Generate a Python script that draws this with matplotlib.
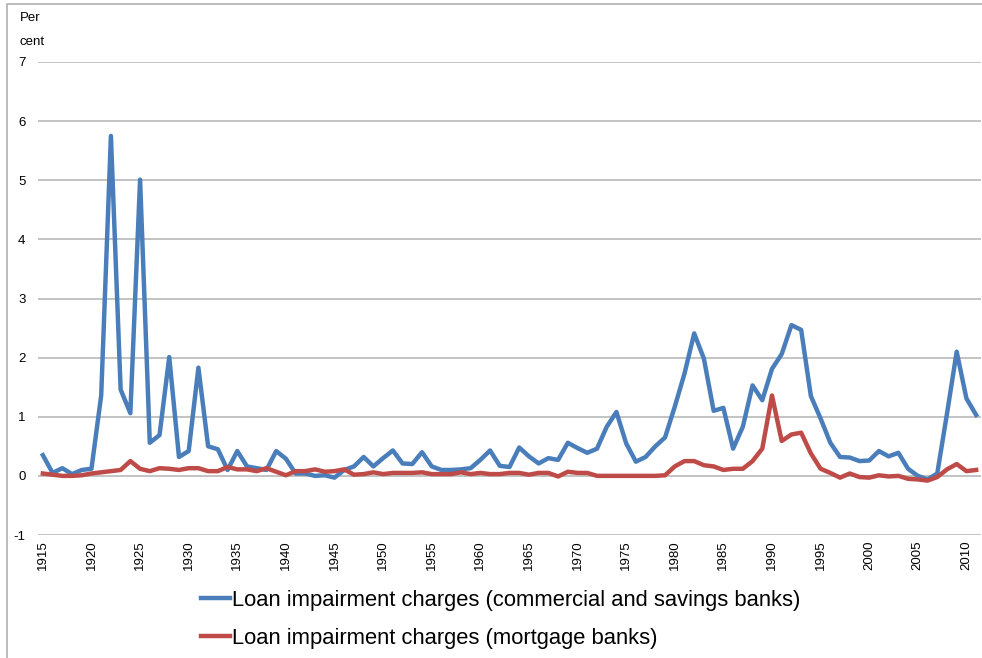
import numpy as np
from matplotlib import pyplot as plt
from matplotlib.patches import Rectangle

plt.rcParams['font.family'] = ['Liberation Sans', 'DejaVu Sans']
plt.rcParams['axes.unicode_minus'] = False

years = list(range(1915, 2012))

# per cent
commercial = [
    0.35, 0.05, 0.13, 0.03, 0.10, 0.12, 1.36, 5.75, 1.46, 1.06,
    5.01, 0.56, 0.69, 2.01, 0.32, 0.42, 1.83, 0.50, 0.45, 0.10,
    0.42, 0.16, 0.13, 0.10, 0.42, 0.29, 0.04, 0.04, 0.00, 0.01,
    -0.03, 0.10, 0.16, 0.32, 0.16, 0.30, 0.43, 0.21, 0.20, 0.40,
    0.16, 0.10, 0.10, 0.11, 0.13, 0.27, 0.43, 0.17, 0.15, 0.48,
    0.33, 0.21, 0.30, 0.27, 0.56, 0.47, 0.39, 0.46, 0.83, 1.08,
    0.55, 0.24, 0.32, 0.50, 0.65, 1.17, 1.73, 2.41, 1.98, 1.10,
    1.15, 0.46, 0.83, 1.53, 1.28, 1.81, 2.06, 2.55, 2.47, 1.35,
    0.97, 0.56, 0.32, 0.31, 0.25, 0.26, 0.42, 0.33, 0.39, 0.12,
    0.00, -0.06, 0.04, 1.05, 2.10, 1.31, 1.03,
]
mortgage = [
    0.04, 0.02, 0.00, 0.00, 0.01, 0.04, 0.06, 0.08, 0.10, 0.25,
    0.12, 0.08, 0.13, 0.12, 0.10, 0.13, 0.13, 0.08, 0.08, 0.15,
    0.11, 0.11, 0.08, 0.13, 0.07, 0.01, 0.08, 0.08, 0.11, 0.07,
    0.08, 0.11, 0.02, 0.03, 0.06, 0.03, 0.05, 0.05, 0.05, 0.06,
    0.03, 0.03, 0.03, 0.06, 0.03, 0.05, 0.03, 0.03, 0.05, 0.05,
    0.02, 0.05, 0.05, -0.01, 0.07, 0.05, 0.05, 0.00, 0.00, 0.00,
    0.00, 0.00, 0.00, 0.00, 0.01, 0.16, 0.25, 0.25, 0.18, 0.16,
    0.10, 0.12, 0.12, 0.25, 0.46, 1.36, 0.59, 0.70, 0.73, 0.38,
    0.12, 0.05, -0.03, 0.04, -0.02, -0.03, 0.01, -0.01, 0.00, -0.05,
    -0.06, -0.08, -0.02, 0.11, 0.20, 0.08, 0.10,
]

labels = ['Loan impairment charges (commercial and savings banks)',
          'Loan impairment charges (mortgage banks)']

fig = plt.figure(figsize=(9.82, 6.58), dpi=100)
ax = fig.add_axes([38 / 982, 123 / 658, 943 / 982, 473 / 658])

x = np.arange(len(years))
ax.plot(x, commercial, color='#4a7ebb', lw=3.2, solid_joinstyle='round',
        label=labels[0])
ax.plot(x, mortgage, color='#be4b48', lw=3.2, solid_joinstyle='round',
        label=labels[1])

ax.set_xlim(-0.5, len(years) - 0.5)
ax.set_ylim(-1, 7)
ax.set_yticks(range(-1, 8))
ax.grid(axis='y', color='#b3b3b3', lw=1.1)
ax.set_axisbelow(True)
for s in ax.spines.values():
    s.set_visible(False)

tick_idx = [i for i, y in enumerate(years) if y % 5 == 0]
ax.set_xticks(tick_idx)
ax.set_xticklabels([str(years[i]) for i in tick_idx], rotation=90, fontsize=9.5)
ax.tick_params(axis='x', length=0, pad=4)
ax.tick_params(axis='y', length=0, pad=9, labelsize=9.5)

fig.text(20 / 982, 1 - 18 / 658, 'Per', fontsize=9.5, va='center', ha='left')
fig.text(20 / 982, 1 - 42 / 658, 'cent', fontsize=9.5, va='center', ha='left')

fig.legend(loc='upper left', bbox_to_anchor=(201 / 982, 1 - 590 / 658),
           frameon=False, fontsize=15.8, handlelength=1.3, handletextpad=0.1,
           labelspacing=0.78, borderaxespad=0, borderpad=0)

fig.patches.append(Rectangle((7 / 982, -0.1), 1.2, 1.1 - 4 / 658,
                             transform=fig.transFigure,
                             fill=False, edgecolor='#b0b0b0', lw=1.2))

fig.savefig('out.png', dpi=100)
